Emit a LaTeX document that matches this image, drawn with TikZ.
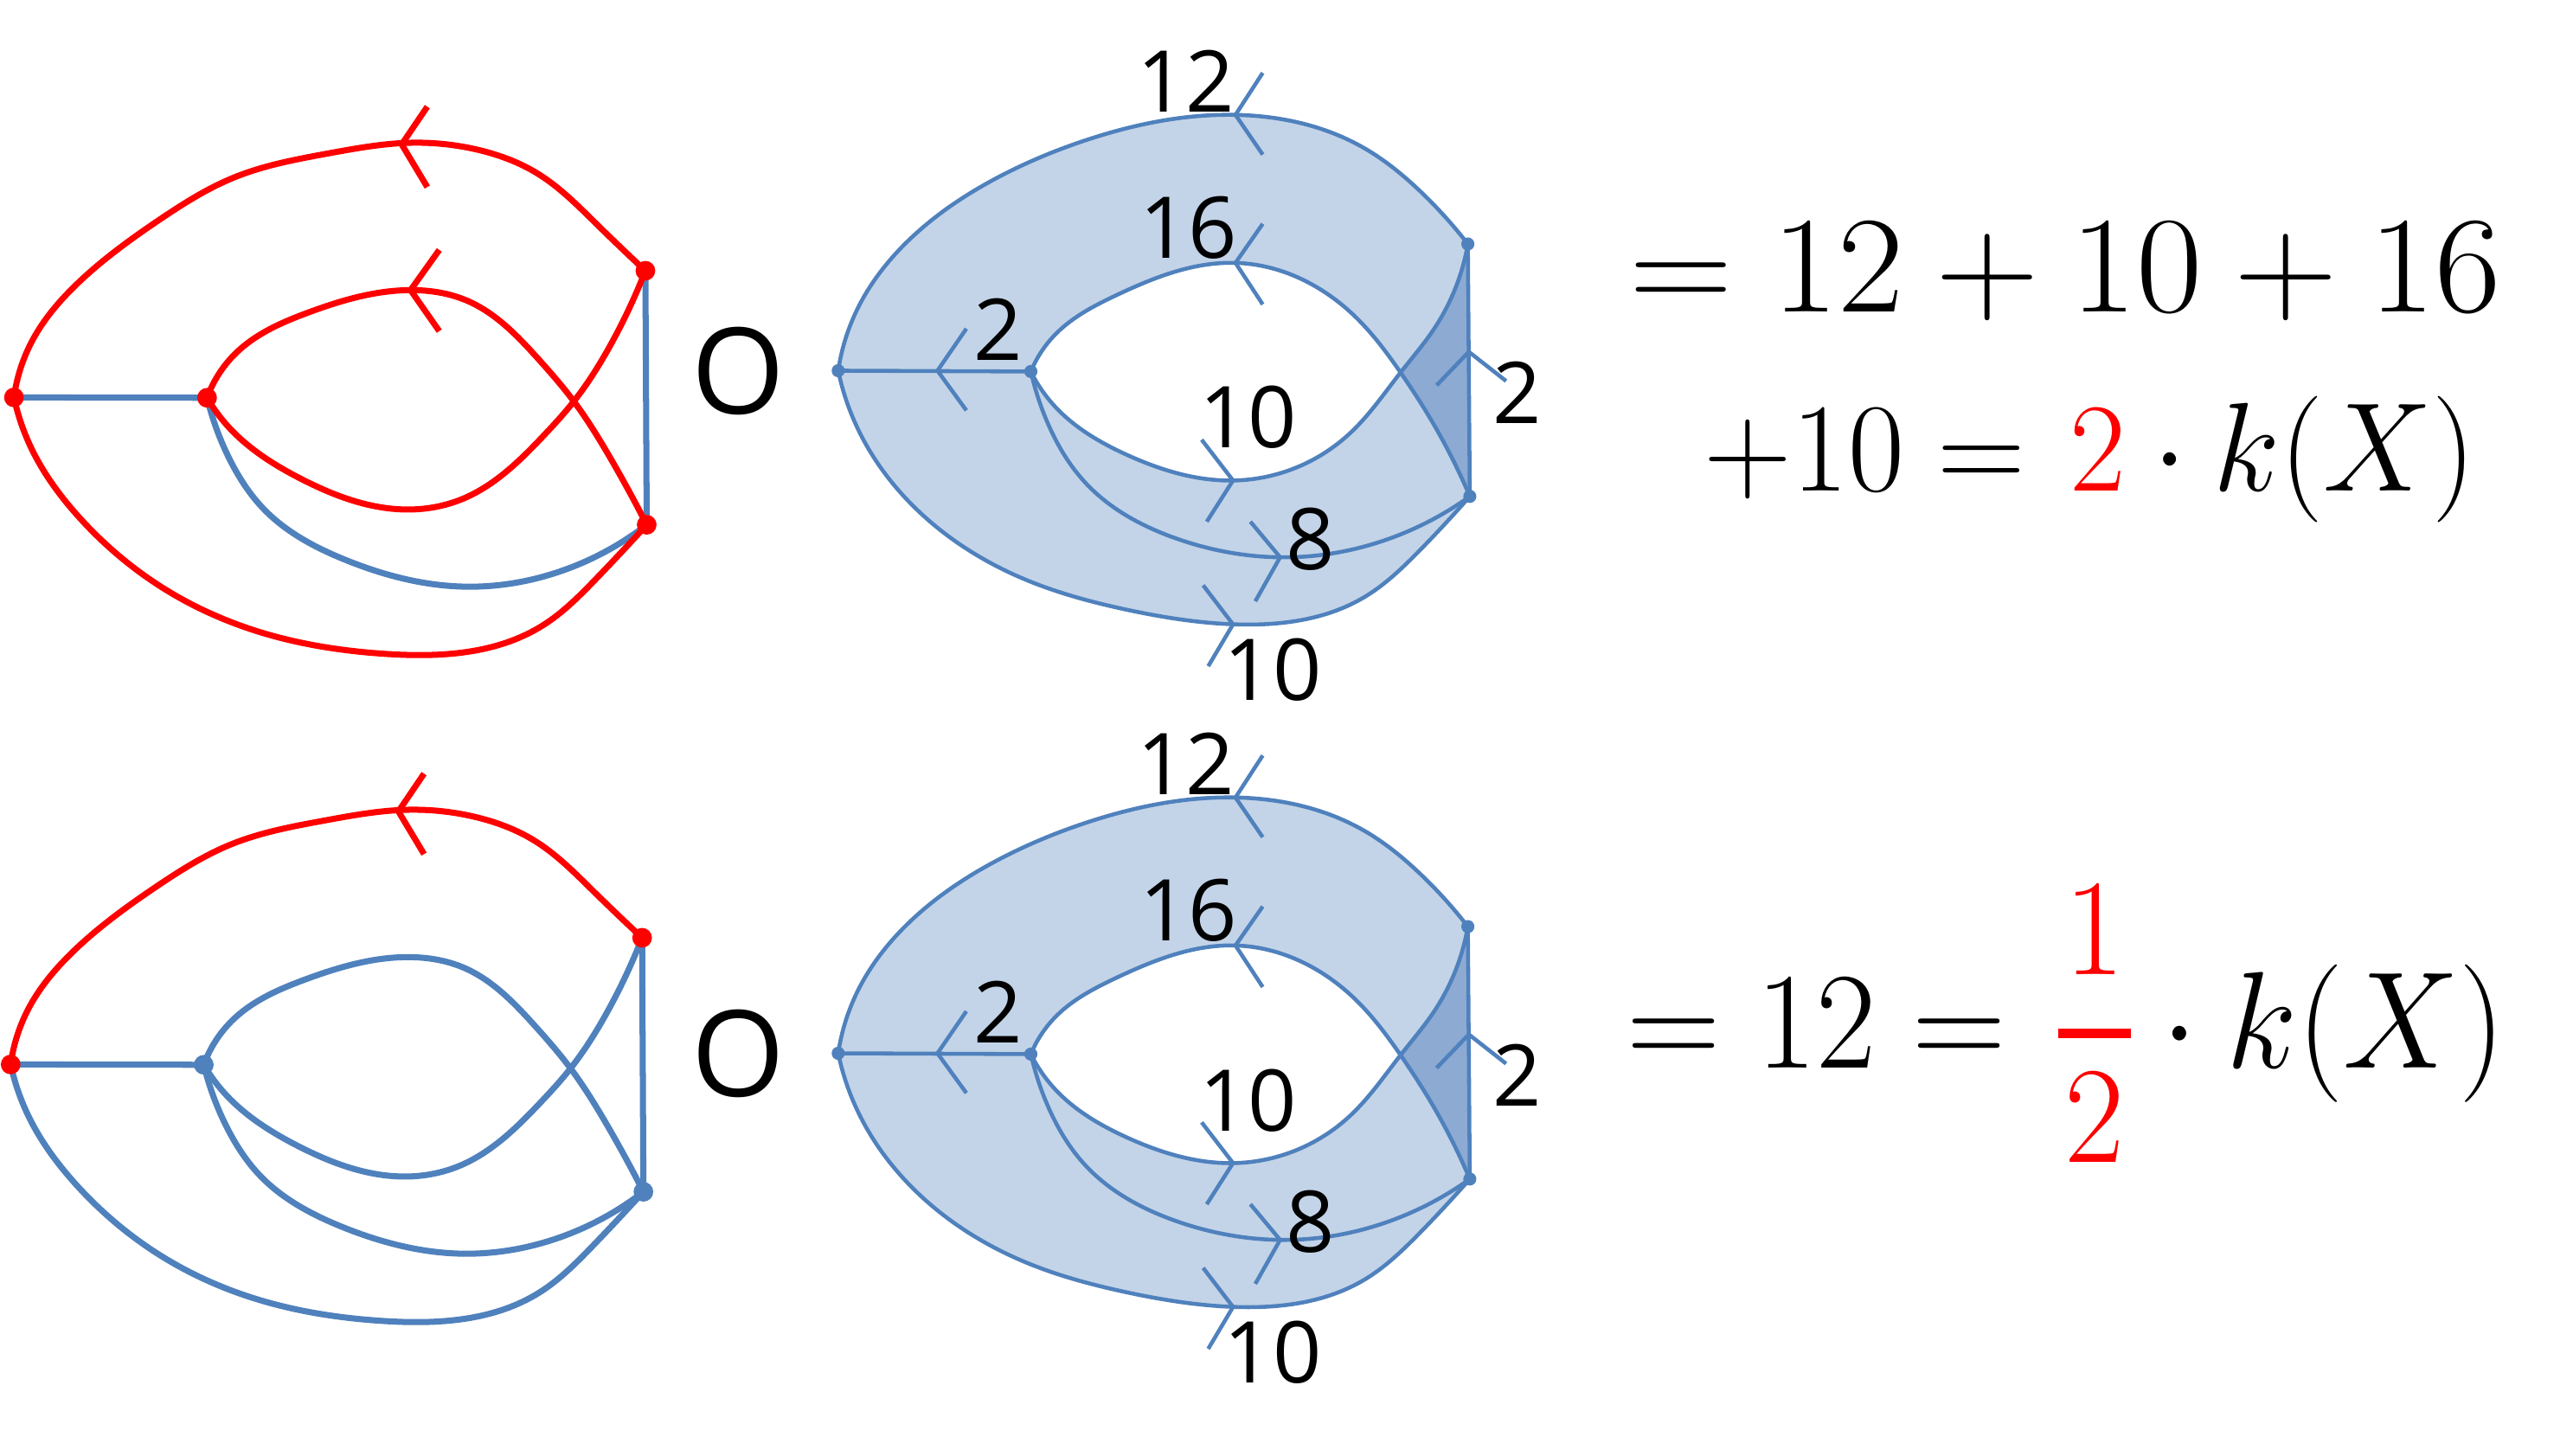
\RequirePackage{fix-cm}
\documentclass[tikz,border=0pt]{standalone}
\usepackage{fontspec}
\usepackage{graphicx}
\usepackage{amsmath}
\usetikzlibrary{hobby}
\newfontfamily\labfont{Open Sans}
\definecolor{pblue}{HTML}{4F81BD}
\definecolor{plight}{HTML}{C3D4E8}
\definecolor{pdark}{HTML}{8DAAD3}
\definecolor{pred}{HTML}{FF0000}
\pgfdeclarelayer{bg}
\pgfdeclarelayer{fg}
\pgfsetlayers{bg,main,fg}
\tikzset{
 lline/.style={line width=3.7pt},
 tline/.style={draw=pblue,line width=2.4pt},
 ldot/.style={circle,inner sep=0pt,minimum size=12pt},
 sdot/.style={circle,fill=pblue,inner sep=0pt,minimum size=8pt},
 lab/.style={font=\labfont\fontsize{52}{52}\selectfont,inner sep=0pt,anchor=base},
 bigO/.style={font=\labfont\fontsize{73}{73}\selectfont,inner sep=0pt,anchor=base},
 eq/.style={inner sep=0pt,anchor=base west},
}
% left graph: #1 suffix, #2 outer top, #3 inner top (B-D), #4 inner bottom (B-C), #5 outer bottom, #6-#9 dot colours A B C D
\newcommand\lgraph[9]{%
 \begin{pgfonlayer}{fg}
  \node[ldot,fill=#6] (A#1) at (8.5,242.2) {};
  \node[ldot,fill=#7] (B#1) at (126.2,242.4) {};
  \node[ldot,fill=#8] (C#1) at (393.3,165) {};
  \node[ldot,fill=#9] (D#1) at (394.1,319.8) {};
 \end{pgfonlayer}
 \draw[lline,pblue] (A#1.center) -- (B#1.center);
 \draw[lline,pblue] (C#1.center) -- (D#1.center);
 \draw[lline,pblue] (B#1.center) .. (140,280) .. (161,310.5) .. (210,341) .. (282.5,357.5) .. (341.7,348.1) .. (D#1.center);
 \draw[lline,#3] (B#1.center) .. (145,214) .. (188,190.4) .. (250,176.8) .. (285,183.4) .. (328,218.7) .. (349.7,244.6) .. (371,277.5) .. (D#1.center);
 \draw[lline,#4] (B#1.center) .. (140,261) .. (183,291.6) .. (250,310.5) .. (282,304) .. (331,265.8) .. (349.7,244.6) .. (371.3,211.6) .. (C#1.center);
 \draw[lline,#5] (A#1.center) .. (20,275) .. (48,315) .. (102,360) .. (161,386) .. (235,398.5) .. (331,381) .. (363,353) .. (D#1.center);
 \draw[lline,#2] (A#1.center) .. (20,207) .. (48,172) .. (97,134) .. (143,108) .. (200,93.5) .. (250,87) .. (290,91) .. (328,106) .. (363,136) .. (C#1.center);
 \draw[lline,#2] (260.4,65) -- (244.8,88) -- (260.4,114);
}
% right diagram
\newcommand\rdiag[1]{%
 \begin{pgfonlayer}{fg}
  \node[sdot] (P#1) at (510.8,225.9) {};
  \node[sdot] (Q#1) at (628.2,226.4) {};
  \node[sdot] (R#1) at (894.5,148.7) {};
  \node[sdot] (S#1) at (895.7,302.5) {};
 \end{pgfonlayer}
 \coordinate (X#1) at (853.5,227);
 \begin{pgfonlayer}{bg}
  \fill[plight] (P#1.center) .. (522.9,187.5) .. (556.2,144.1) .. (607.7,108.3) .. (662.1,85.3) .. (752.9,70) .. (831.6,90.4) .. (864.9,116) .. (R#1.center)
   -- (S#1.center) .. (864.9,335.7) .. (831.6,363.8) .. (752.9,380.5) .. (686.3,371.5) .. (625.8,353.6) .. (553.2,305) .. (522.9,261.6) .. (P#1.center) -- cycle;
  \begin{scope}
   \clip (600,100) rectangle (853.5,350);
   \fill[white] (Q#1.center) .. (644,202.9) .. (680.3,179.9) .. (752.9,160.2) .. (825.5,192.6) .. (X#1) .. (874,259.1) .. (S#1.center)
    -- (R#1.center) .. (874,200.3) .. (X#1) .. (822.5,264.2) .. (752.9,292.8) .. (686.3,277) .. (644,248.9) .. (Q#1.center) -- cycle;
  \end{scope}
  \begin{scope}
   \clip (853.5,100) rectangle (920,350);
   \fill[pdark] (Q#1.center) .. (644,202.9) .. (680.3,179.9) .. (752.9,160.2) .. (825.5,192.6) .. (X#1) .. (874,259.1) .. (S#1.center)
    -- (R#1.center) .. (874,200.3) .. (X#1) .. (822.5,264.2) .. (752.9,292.8) .. (686.3,277) .. (644,248.9) .. (Q#1.center) -- cycle;
  \end{scope}
 \end{pgfonlayer}
 \draw[tline] (P#1.center) -- (Q#1.center);
 \draw[tline] (R#1.center) -- (S#1.center);
 \draw[tline] (P#1.center) .. (522.9,187.5) .. (556.2,144.1) .. (607.7,108.3) .. (662.1,85.3) .. (752.9,70) .. (831.6,90.4) .. (864.9,116) .. (R#1.center);
 \draw[tline] (P#1.center) .. (522.9,261.6) .. (553.2,305) .. (625.8,353.6) .. (686.3,371.5) .. (752.9,380.5) .. (831.6,363.8) .. (864.9,335.7) .. (S#1.center);
 \draw[tline] (Q#1.center) .. (644,202.9) .. (680.3,179.9) .. (752.9,160.2) .. (825.5,192.6) .. (X#1) .. (874,259.1) .. (S#1.center);
 \draw[tline] (Q#1.center) .. (644,248.9) .. (686.3,277) .. (752.9,292.8) .. (822.5,264.2) .. (X#1) .. (874,200.3) .. (R#1.center);
 \draw[tline] (Q#1.center) .. (637.9,256.5) .. (662.1,294.9) .. (716.6,328.1) .. (786.2,339.6) .. (843.7,329.3) .. (S#1.center);
 % chevrons
 \draw[tline] (769.5,44.4) -- (752.9,70) -- (769.5,94.2);
 \draw[tline] (769.5,136.4) -- (752.9,160.2) -- (769.5,185.5);
 \draw[tline] (732.3,268) -- (751.4,292.8) -- (735.4,317.9);
 \draw[tline] (762,317.9) -- (780.1,339.6) -- (765,366.4);
 \draw[tline] (733.2,356.7) -- (751.4,380.5) -- (736.3,406);
 \draw[tline] (588.9,200.3) -- (571.3,225.9) -- (588.9,250.1);
 \draw[tline] (875.5,234.8) -- (895.1,214.4) -- (917.8,232.2);
 % labels
 \node[lab] (t12#1) at (722.6,68.5) {12};
 \node[lab] (t16#1) at (724.2,157.2) {16};
 \node[lab] (t2a#1) at (608.4,219.6) {2};
 \node[lab] (t10a#1) at (760.5,273.1) {10};
 \node[lab] (t8#1) at (798.6,347.3) {8};
 \node[lab] (t10b#1) at (775.6,426.6) {10};
 \node[lab] (t2b#1) at (924.4,258.3) {2};
}
\begin{document}
\begin{tikzpicture}[x=1pt,y=-1pt,use Hobby shortcut]
\begin{pgfonlayer}{bg}
 \fill[white] (0,0) rectangle (1568,887);
\end{pgfonlayer}
\useasboundingbox (0,0) rectangle (1568,887);
% top row
\lgraph{t}{pred}{pred}{pred}{pred}{pred}{pred}{pred}{pred}
\draw[lline,pred] (267.7,152.3) -- (250.2,176.8) -- (267.7,201.8);
\node[bigO] (O1) at (450.2,252.5) {O};
\rdiag{t}
% bottom row
\begin{scope}[shift={(-2,406.5)}]
\lgraph{b}{pred}{pblue}{pblue}{pblue}{pred}{pblue}{pred}{pblue}
\end{scope}
\node[bigO] (O2) at (450.2,668.5) {O};
\begin{scope}[shift={(0,416)}]
\rdiag{b}
\end{scope}
% equations
\node[eq] (eq1) at (992.6,190.3) {\resizebox{532pt}{\height}{\fontsize{84}{84}\selectfont$=12+10+16$}};
\node[eq] (eq2) at (1038.4,299.4) {\resizebox{470pt}{\height}{\fontsize{77}{77}\selectfont$+10=\kern6pt{\color{pred}2}\cdot k(X)$}};
\node[eq] (eq3) at (991.5,650.7) {\resizebox{535pt}{\height}{\fontsize{84}{84}\selectfont$=12=\kern9pt{\color{pred}\genfrac{}{}{5.5pt}{0}{\kern4pt 1\kern4pt}{\kern4pt 2\kern4pt}}\cdot k(X)$}};
\end{tikzpicture}
\end{document}
